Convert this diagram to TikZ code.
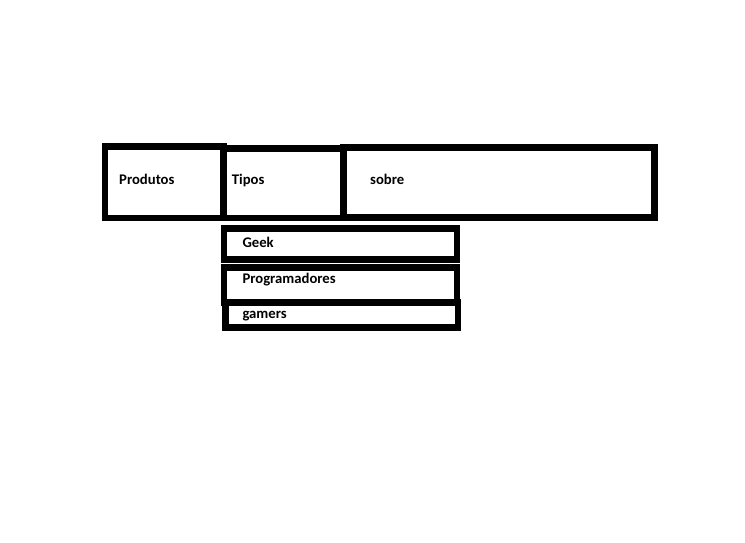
\documentclass[tikz,border=0pt]{standalone}
\usepackage{fontspec}
\setmainfont{Carlito}
\begin{document}
\begin{tikzpicture}[x=1pt,y=-1pt,
  caixa/.style = {draw, line width=6.5pt, inner sep=0pt, outer sep=0pt},
  rotulo/.style = {anchor=base west, inner sep=0pt, font=\fontsize{14.7}{17}\selectfont\bfseries}]
  \fill[white] (0,0) rectangle (745,542);
  \useasboundingbox (0,0) rectangle (745,542);
  % menu de cima
  \node[caixa, minimum width=118.5pt, minimum height=71.5pt] (produtos) at (164.25,182.25) {};
  \node[caixa, minimum width=120pt, minimum height=69.5pt] (tipos) at (283.5,183.25) {};
  \node[caixa, minimum width=311pt, minimum height=70pt] (sobre) at (499,182.5) {};
  % submenu de tipos
  \node[caixa, minimum width=233pt, minimum height=31pt] (geek) at (340.5,244) {};
  \node[caixa, minimum width=233pt, minimum height=35pt] (programadores) at (340.5,285) {};
  \node[caixa, minimum width=232.5pt, minimum height=25pt] (gamers) at (341.75,315) {};
  % textos
  \node[rotulo] (tprodutos) at (119,184.5) {Produtos};
  \node[rotulo] (ttipos) at (231.7,184.5) {Tipos};
  \node[rotulo] (tsobre) at (370,184.5) {sobre};
  \node[rotulo] (tgeek) at (242.3,247) {Geek};
  \node[rotulo] (tprogramadores) at (242.3,283) {Programadores};
  \node[rotulo] (tgamers) at (242.3,318.5) {gamers};
\end{tikzpicture}
\end{document}
